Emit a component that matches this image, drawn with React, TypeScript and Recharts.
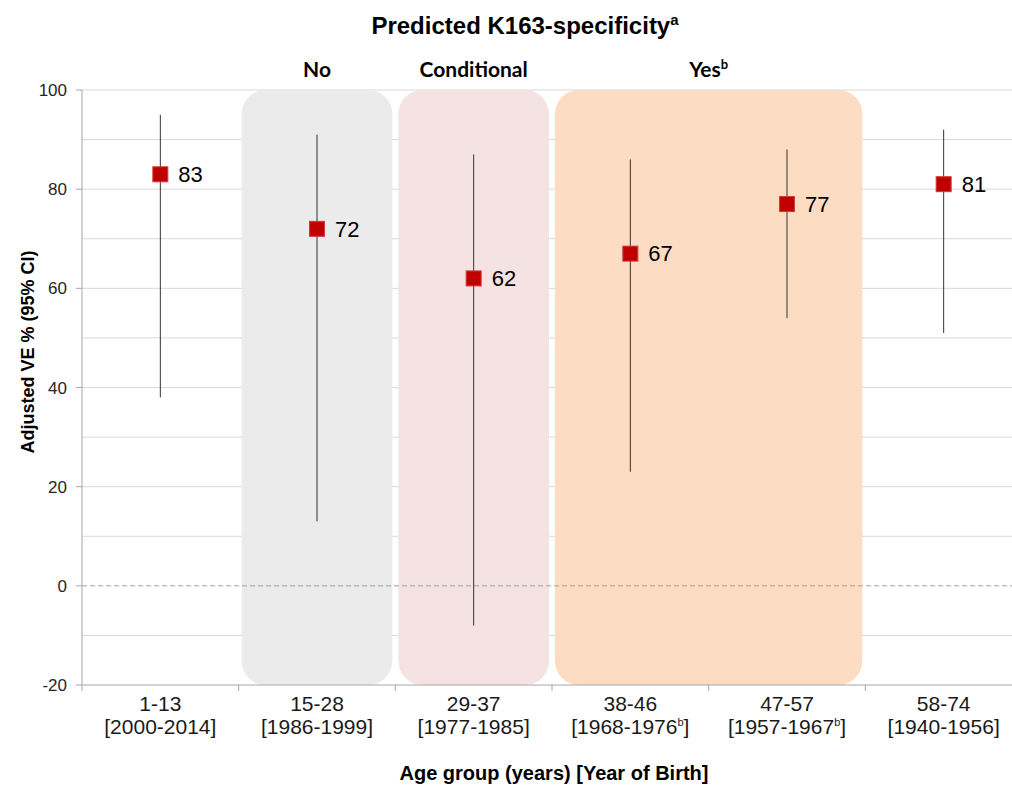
import React from "react";
import {
  ComposedChart,
  Line,
  XAxis,
  YAxis,
  CartesianGrid,
  ReferenceArea,
  ReferenceLine,
  ErrorBar,
  LabelList,
} from "recharts";

const ageGroups = ["1-13", "15-28", "29-37", "38-46", "47-57", "58-74"];
const birthYears = ["2000-2014", "1986-1999", "1977-1985", "1968-1976", "1957-1967", "1940-1956"];
const birthNotes = ["", "", "", "b", "b", ""];
const adjustedVE = [83, 72, 62, 67, 77, 81];
const ciLower = [38, 13, -8, 23, 54, 51];
const ciUpper = [95, 91, 87, 86, 88, 92];

const yTicks = [-20, 0, 20, 40, 60, 80, 100];
const gridValues = [-10, 10, 20, 30, 40, 50, 60, 70, 80, 90, 100];

const specLabels = ["No", "Conditional", "Yes"];
const specNotes = ["", "", "b"];
const specFrom = ["15-28", "29-37", "38-46"];
const specTo = ["15-28", "29-37", "47-57"];
const specColors = ["#EBEBEB", "#F5E2E2", "#FCDCC2"];

const data = ageGroups.map((age, i) => ({
  age,
  years: birthYears[i],
  note: birthNotes[i],
  ve: adjustedVE[i],
  ci: [adjustedVE[i] - ciLower[i], ciUpper[i] - adjustedVE[i]],
}));

const W = 1030;
const H = 787;
const LEFT = 82;
const RIGHT_MARGIN = 8;
const BAND = (W - RIGHT_MARGIN - LEFT) / ageGroups.length;
const FONT = "'Liberation Sans', Arial, sans-serif";
const HEAD_FONT = "Lato, 'Noto Sans', sans-serif";
const AXIS = "#a6a6a6";

function AgeTick(props: any) {
  const { x, y, payload, index } = props;
  const i = ageGroups.indexOf(payload.value);
  return (
    <g>
      <line x1={x - BAND / 2} x2={x - BAND / 2} y1={y} y2={y + 6} stroke={AXIS} />
      {index === ageGroups.length - 1 && (
        <line x1={x + BAND / 2} x2={x + BAND / 2} y1={y} y2={y + 6} stroke={AXIS} />
      )}
      <text x={x} y={y + 26} textAnchor="middle" fontSize={21} fill="#1a1a1a" fontFamily={FONT}>
        {payload.value}
      </text>
      <text x={x} y={y + 49} textAnchor="middle" fontSize={21} fill="#1a1a1a" fontFamily={FONT}>
        <tspan>[{birthYears[i]}</tspan>
        {birthNotes[i] && (
          <tspan dy={-8} fontSize={11}>
            {birthNotes[i]}
          </tspan>
        )}
        <tspan dy={birthNotes[i] ? 8 : 0}>]</tspan>
      </text>
    </g>
  );
}

function SpecShape(props: any) {
  const { x, y, width, height, idx } = props;
  return (
    <g>
      <rect x={x + 3} y={y} width={width - 6} height={height} rx={24} ry={24} fill={specColors[idx]} />
      <text
        x={x + width / 2}
        y={y - 13}
        textAnchor="middle"
        fontSize={21}
        fontWeight="bold"
        fill="#000"
        fontFamily={HEAD_FONT}
      >
        {specLabels[idx]}
        {specNotes[idx] && (
          <tspan dy={-8} fontSize={13}>
            {specNotes[idx]}
          </tspan>
        )}
      </text>
    </g>
  );
}

function Square(props: any) {
  const { cx, cy, index } = props;
  if (cx == null || cy == null) return <g key={index} />;
  return (
    <rect key={index} x={cx - 7.5} y={cy - 7.5} width={15} height={15} fill="#C00000" stroke="#D43A3A" strokeWidth={1} />
  );
}

export default function App() {
  return (
    <div style={{ position: "absolute", left: 0, top: 0, width: 1012, height: 787, overflow: "hidden", background: "#fff" }}>
      <div
        style={{
          position: "absolute",
          top: 8,
          left: 0,
          width: 1050,
          textAlign: "center",
          fontFamily: FONT,
          fontWeight: "bold",
          fontSize: 24,
          lineHeight: "24px",
          color: "#000",
        }}
      >
        Predicted K163-specificity<sup style={{ fontSize: 15 }}>a</sup>
      </div>
      <ComposedChart width={W} height={H} data={data} margin={{ top: 90, right: RIGHT_MARGIN, bottom: 0, left: 0 }}>
        {specLabels.map((label, i) => (
          <ReferenceArea
            key={label}
            x1={specFrom[i]}
            x2={specTo[i]}
            ifOverflow="visible"
            shape={(p: any) => <SpecShape {...p} idx={i} />}
          />
        ))}
        <CartesianGrid vertical={false} horizontalValues={gridValues} stroke="#d9d9d9" />
        <ReferenceLine y={0} stroke="#a0a0a0" strokeDasharray="5 3" />
        <XAxis
          dataKey="age"
          type="category"
          scale="band"
          height={102}
          interval={0}
          tickLine={false}
          tickSize={0}
          tickMargin={0}
          axisLine={{ stroke: AXIS }}
          tick={(p: any) => <AgeTick {...p} />}
          label={{
            content: () => (
              <text x={554} y={780} textAnchor="middle" fontSize={20} fontWeight="bold" fill="#000" fontFamily={FONT}>
                Age group (years) [Year of Birth]
              </text>
            ),
          }}
        />
        <YAxis
          type="number"
          domain={[-20, 100]}
          ticks={yTicks}
          width={LEFT}
          tickSize={6}
          tickMargin={9}
          axisLine={{ stroke: AXIS }}
          tickLine={{ stroke: AXIS }}
          tick={{ fontSize: 17, fill: "#262626", fontFamily: FONT }}
          label={{
            content: () => (
              <text
                transform="translate(34,352) rotate(-90)"
                textAnchor="middle"
                fontSize={18}
                fontWeight="bold"
                fill="#000"
                fontFamily={FONT}
              >
                Adjusted VE % (95% CI)
              </text>
            ),
          }}
        />
        <Line
          dataKey="ve"
          stroke="none"
          dot={(p: any) => <Square {...p} />}
          activeDot={false}
          legendType="none"
          isAnimationActive={false}
        >
          <ErrorBar dataKey="ci" width={0} stroke="#333" strokeWidth={1} direction="y" />
          <LabelList dataKey="ve" position="right" offset={18} fontSize={22} fill="#000" fontFamily={FONT} />
        </Line>
      </ComposedChart>
    </div>
  );
}
